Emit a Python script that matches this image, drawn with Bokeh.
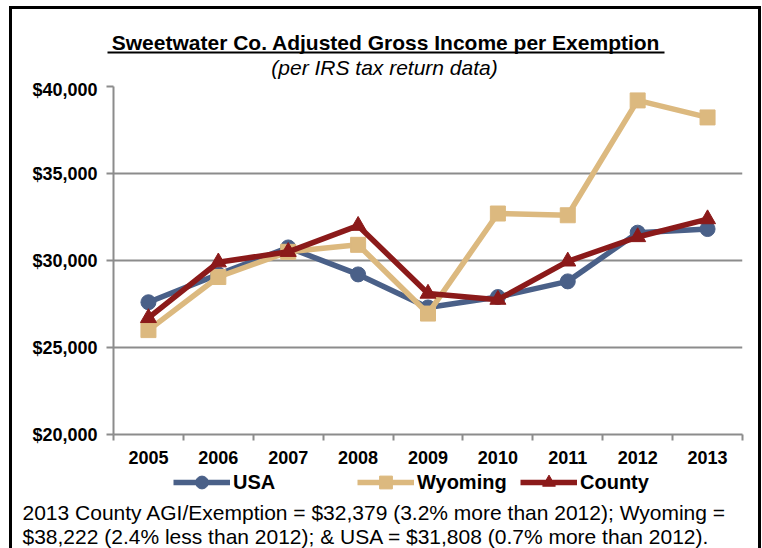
from bokeh.plotting import figure
from bokeh.layouts import column
from bokeh.models import (FixedTicker, Legend, LegendItem, Label, BoxAnnotation,
                          NumeralTickFormatter, Range1d)
from bokeh.embed import file_html
from bokeh.resources import INLINE

# ---- data ----
years = [2005, 2006, 2007, 2008, 2009, 2010, 2011, 2012, 2013]
usa = [27600, 29200, 30750, 29200, 27300, 27900, 28800, 31600, 31808]
wyoming = [26000, 29050, 30500, 30900, 26950, 32700, 32600, 39200, 38222]
county = [26700, 29900, 30500, 32000, 28100, 27750, 29950, 31350, 32379]
y_ticks = [20000, 25000, 30000, 35000, 40000]
series_names = ["USA", "Wyoming", "County"]

title_text = "Sweetwater Co. Adjusted Gross Income per Exemption"
subtitle_text = "(per IRS tax return data)"
note_lines = ["2013 County AGI/Exemption = $32,379 (3.2% more than 2012); Wyoming =",
              "$38,222 (2.4% less than 2012); & USA = $31,808 (0.7% more than 2012)."]

C_USA = "#4a6088"
C_WY = "#dcb97f"
C_CO = "#8b1a1a"
GRID = "#8c8c8c"
FONT = "Liberation Sans"
W = 746
H_HEAD, H_MAIN, H_FOOT = 70, 391, 78


def blank_panel(height):
    """A figure whose frame fills the whole canvas, used for texts and legend."""
    fig = figure(width=W, height=height, output_backend="svg", toolbar_location=None,
                 title=None, x_range=Range1d(0, W), y_range=Range1d(0, height),
                 x_axis_location=None, y_axis_location=None, frame_align=False,
                 min_border_left=0, min_border_right=0, min_border_top=0,
                 min_border_bottom=0)
    fig.outline_line_color = None
    fig.xgrid.visible = False
    fig.ygrid.visible = False
    fig.background_fill_color = "white"
    fig.border_fill_color = "white"
    return fig


# ---------------- header: title, underline, subtitle ----------------
h = blank_panel(H_HEAD)
h.add_layout(Label(x=373.5, y=37, x_units="screen", y_units="screen", text=title_text,
                   text_align="center", text_baseline="middle", text_font=FONT,
                   text_font_style="bold", text_font_size="21px", text_color="black"))
h.add_layout(BoxAnnotation(left=95, right=652, bottom=26, top=28,
                           fill_color="black", fill_alpha=1, line_color=None))
h.add_layout(Label(x=372, y=12, x_units="screen", y_units="screen", text=subtitle_text,
                   text_align="center", text_baseline="middle", text_font=FONT,
                   text_font_style="italic", text_font_size="21px", text_color="black"))

# ---------------- main chart ----------------
p = figure(width=W, height=H_MAIN, output_backend="svg", toolbar_location=None, title=None,
           x_range=Range1d(years[0] - 0.5, years[-1] + 0.5),
           y_range=Range1d(y_ticks[0], y_ticks[-1]), frame_align=False,
           min_border_left=101, min_border_right=16, min_border_top=7,
           min_border_bottom=36)
p.outline_line_color = None
p.background_fill_color = "white"
p.border_fill_color = "white"

# x axis: labels at year centres, ticks at category boundaries
p.xaxis.ticker = FixedTicker(ticks=years, minor_ticks=[y - 0.5 for y in years] + [years[-1] + 0.5])
p.xaxis.major_tick_out = 0
p.xaxis.major_tick_in = 0
p.xaxis.minor_tick_out = 6
p.xaxis.minor_tick_in = 0
p.xaxis.minor_tick_line_color = GRID
p.xaxis.minor_tick_line_width = 2
p.xaxis.axis_line_color = GRID
p.xaxis.axis_line_width = 2
p.xaxis.major_label_standoff = 10
p.xaxis.major_label_text_font = FONT
p.xaxis.major_label_text_font_style = "bold"
p.xaxis.major_label_text_font_size = "18px"
p.xaxis.major_label_text_color = "black"
p.xgrid.visible = False

p.yaxis.ticker = FixedTicker(ticks=y_ticks, minor_ticks=[])
p.yaxis.formatter = NumeralTickFormatter(format="$0,0")
p.yaxis.major_tick_out = 7
p.yaxis.major_tick_in = 0
p.yaxis.major_tick_line_color = GRID
p.yaxis.major_tick_line_width = 2
p.yaxis.axis_line_color = GRID
p.yaxis.axis_line_width = 2
p.yaxis.major_label_standoff = 9
p.yaxis.major_label_text_font = FONT
p.yaxis.major_label_text_font_style = "bold"
p.yaxis.major_label_text_font_size = "18px"
p.yaxis.major_label_text_color = "black"
p.ygrid.grid_line_color = GRID
p.ygrid.grid_line_width = 2

styles = {
    "USA": dict(color=C_USA, marker="circle", size=15, values=usa),
    "Wyoming": dict(color=C_WY, marker="square", size=15, values=wyoming),
    "County": dict(color=C_CO, marker="triangle", size=16, values=county),
}
for name in series_names:
    s = styles[name]
    p.line(years, s["values"], line_color=s["color"], line_width=5.5)
    p.scatter(years, s["values"], marker=s["marker"], size=s["size"],
              fill_color=s["color"], line_color=s["color"])

# ---------------- footer: legend and note ----------------
f = blank_panel(H_FOOT)
legend_x = {"USA": 161, "Wyoming": 345, "County": 508}
for name in series_names:
    s = styles[name]
    # legend samples (the data lie outside this panel's ranges, so only the legend shows)
    rl = f.line(years, s["values"], line_color=s["color"], line_width=5.5)
    rm = f.scatter(years, s["values"], marker=s["marker"], size=s["size"],
                   fill_color=s["color"], line_color=s["color"])
    lg = Legend(items=[LegendItem(label=name, renderers=[rl, rm])],
                location=(legend_x[name], 50), orientation="horizontal",
                glyph_width=57, glyph_height=32, label_height=20, label_standoff=3,
                padding=0, margin=0, spacing=0, border_line_color=None,
                background_fill_alpha=0, label_text_font=FONT,
                label_text_font_style="bold", label_text_font_size="20px",
                label_text_color="black")
    f.add_layout(lg, "center")

for line, ly in zip(note_lines, [36, 12]):
    f.add_layout(Label(x=10, y=ly, x_units="screen", y_units="screen", text=line,
                       text_align="left", text_baseline="middle", text_font=FONT,
                       text_font_size="21px", text_color="black"))

layout = column(h, p, f, spacing=0,
                styles={"border-top": "3px solid black", "border-left": "3px solid black",
                        "border-right": "3px solid black", "margin-left": "9px",
                        "margin-top": "6px"})

open("out.html", "w").write(file_html(layout, INLINE))
